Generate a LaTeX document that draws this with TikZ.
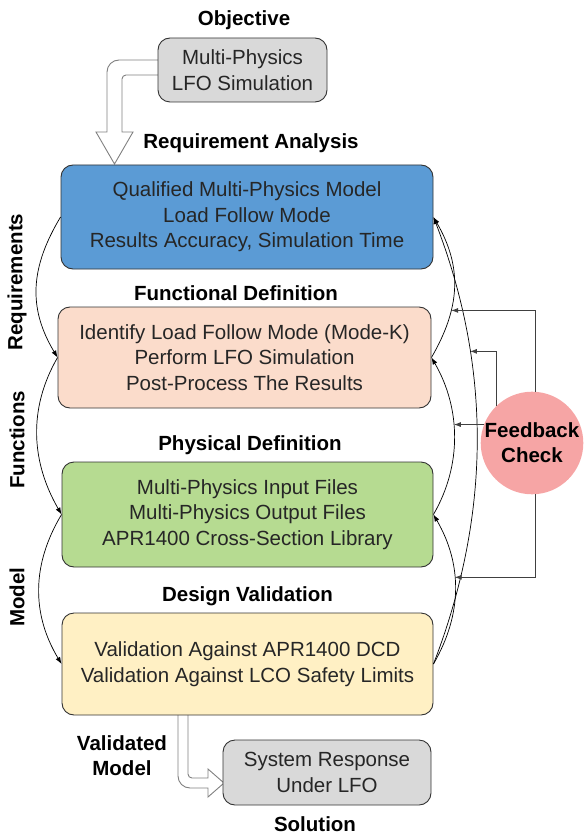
\documentclass[tikz,border=0pt]{standalone}
\usepackage{fontspec}
\setmainfont{Liberation Sans}
\usetikzlibrary{arrows.meta,calc}
\definecolor{cblue}{HTML}{5B9BD5}
\definecolor{corange}{HTML}{FBDCCB}
\definecolor{cgreen}{HTML}{B6DB91}
\definecolor{cyellow}{HTML}{FFF0C4}
\definecolor{cgray}{HTML}{D9D9D9}
\definecolor{cpink}{HTML}{F6A5A5}
\definecolor{cborder}{HTML}{333333}
\definecolor{chollow}{HTML}{808080}
\begin{document}
\begin{tikzpicture}[x=1pt,y=-1pt,
  box/.style={draw=cborder, line width=0.9pt, rounded corners=12pt, align=center,
    font=\fontsize{20.5}{25.5}\selectfont, text=black!85, inner sep=0pt},
  lbl/.style={font=\fontsize{20.5}{25}\selectfont\bfseries, align=center, inner sep=0pt},
  conn/.style={draw=black, line width=0.7pt, -{Latex[length=7pt,width=5pt]}},
  fbline/.style={draw=black!75, line width=0.8pt, -{Latex[length=7pt,width=5pt]}},
  hollow/.style={draw=chollow, fill=white, line width=0.9pt}]
\useasboundingbox (0,0) rectangle (583,834);

% hollow arrows (drawn first, boxes cover their ends)
\draw[hollow] (160,60) [rounded corners=12pt] -- (107,60) [sharp corners] -- (107,132)
  -- (96,132) -- (114.5,164) -- (133,132) -- (122,132) [rounded corners=4pt] -- (122,75)
  [sharp corners] -- (160,75);
\draw[hollow] (188,712) [rounded corners=4pt] -- (188,778) [sharp corners] -- (208,778)
  -- (208,769) -- (224,783) -- (208,797) -- (208,788) [rounded corners=12pt] -- (178,788)
  [sharp corners] -- (178,712);

% boxes
\node[box, fill=cgray, minimum width=169pt, minimum height=64pt] (obj) at (242.5,70)
  {Multi-Physics\\LFO Simulation};
\node[box, fill=cblue, minimum width=372pt, minimum height=104pt] (req) at (247,217)
  {Qualified Multi-Physics Model\\Load Follow Mode\\Results Accuracy, Simulation Time};
\node[box, fill=corange, minimum width=373pt, minimum height=101pt] (fun) at (244.5,357.5)
  {Identify Load Follow Mode (Mode-K)\\Perform LFO Simulation\\Post-Process The Results};
\node[box, fill=cgreen, minimum width=371pt, minimum height=105pt] (phy) at (247.5,514.5)
  {Multi-Physics Input Files\\Multi-Physics Output Files\\APR1400 Cross-Section Library};
\node[box, fill=cyellow, minimum width=371pt, minimum height=102pt] (des) at (247.5,664)
  {Validation Against APR1400 DCD\\Validation Against LCO Safety Limits};
\node[box, fill=cgray, minimum width=208pt, minimum height=65pt] (sol) at (327,772.5)
  {System Response\\Under LFO};

% labels
\node[lbl] (lobj) at (244,20) {Objective};
\node[lbl] (lreq) at (251,143) {Requirement Analysis};
\node[lbl] (lfun) at (236,293) {Functional Definition};
\node[lbl] (lphy) at (250,445) {Physical Definition};
\node[lbl] (ldes) at (247.5,596) {Design Validation};
\node[lbl] (lval) at (122,756) {Validated\\Model};
\node[lbl] (lsol) at (315,824) {Solution};
\node[lbl, rotate=90] (lrq) at (17,282) {Requirements};
\node[lbl, rotate=90] (lfn) at (17,440) {Functions};
\node[lbl, rotate=90] (lmd) at (17,597) {Model};

% left curves
\draw[conn] (req.west) .. controls +(-30,50) and +(-30,-50) .. (fun.west);
\draw[conn] (fun.west) .. controls +(-30,52) and +(-30,-52) .. (phy.west);
\draw[conn] (phy.west) .. controls +(-30,50) and +(-30,-50) .. (des.west);

% right curves
\draw[conn] (fun.east) .. controls +(29,-50) and +(29,50) .. (req.east) coordinate[pos=0.33] (t1);
\draw[conn] (phy.east) .. controls +(29,-50) and +(29,50) .. (fun.east) coordinate[pos=0.55] (t3);
\draw[conn] (des.east) .. controls +(29,-50) and +(29,50) .. (phy.east) coordinate[pos=0.58] (t4);
\draw[conn] (des.east) .. controls +(58,-150) and +(58,150) .. (req.east) coordinate[pos=0.70] (t2);

% feedback
\node[circle, fill=cpink, minimum size=100pt, inner sep=0pt, lbl] (fb) at (532,443) {Feedback\\Check};
\coordinate (s1) at ([xshift=3pt]fb.north);
\coordinate (s4) at ([xshift=3pt]fb.south);
\draw[fbline] (s1) |- (t1);
\draw[fbline] (fb.134) |- (t2);
\draw[fbline] (fb.159) -- (t3 |- fb.159);
\draw[fbline] (s4) |- (t4);
\end{tikzpicture}
\end{document}
